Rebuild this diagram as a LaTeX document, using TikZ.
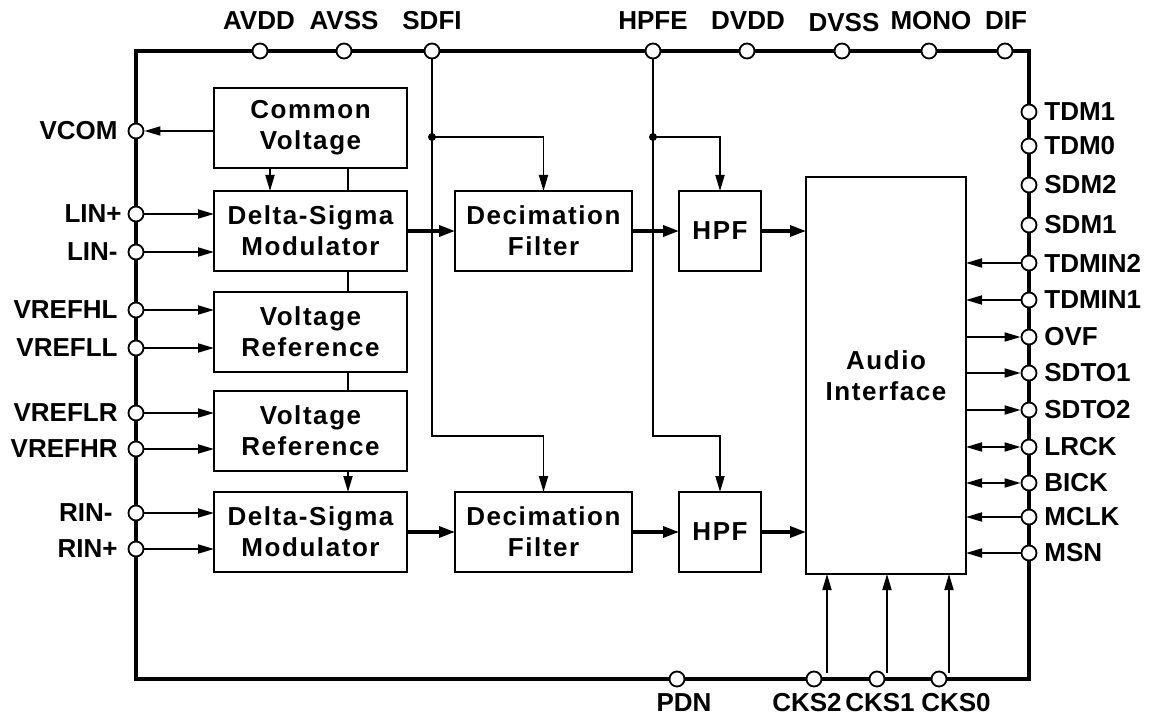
\documentclass[tikz,border=0pt]{standalone}
\usepackage{fontspec}
\setmainfont{Liberation Sans}
\newfontfamily\boxfont[LetterSpace=6.0]{Liberation Sans}
\usetikzlibrary{arrows.meta,positioning}

\tikzset{
  blk/.style={draw, line width=1.2pt, inner sep=0pt, outer sep=0pt, align=center,
    font=\boxfont\bfseries\fontsize{13pt}{15.5pt}\selectfont},
  colblk/.style={blk, minimum width=96.5pt, minimum height=40pt},
  decblk/.style={blk, minimum width=88.5pt, minimum height=40pt},
  hpfblk/.style={blk, minimum width=41pt, minimum height=40pt},
  pin/.style={circle, draw, fill=white, line width=0.9pt, minimum size=7.5pt, inner sep=0pt},
  lbl/.style={inner sep=0pt, font=\bfseries\fontsize{13pt}{15pt}\selectfont},
  wire/.style={line width=0.9pt},
  sig/.style={wire, -{Triangle[length=8pt,width=4.5pt]}},
  bidi/.style={wire, {Triangle[length=8pt,width=4.5pt]}-{Triangle[length=8pt,width=4.5pt]}},
  bus/.style={line width=1.7pt, -{Triangle[length=8pt,width=5.5pt]}},
}

\begin{document}
\begin{tikzpicture}[x=0.5pt, y=-0.5pt]
  \useasboundingbox (0,0) rectangle (1153,722);
  % package outline
  \draw[line width=1.8pt] (136,51) rectangle (1029,679);

  % blocks
  \node[colblk] (cv)   at (310.5,128) {Common\\Voltage};
  \node[colblk] (dsl)  at (310.5,231) {Delta-Sigma\\Modulator};
  \node[colblk] (vrl)  at (310.5,332) {Voltage\\Reference};
  \node[colblk] (vrr)  at (310.5,431) {Voltage\\Reference};
  \node[colblk] (dsr)  at (310.5,532) {Delta-Sigma\\Modulator};
  \node[decblk] (decl) at (543.5,231) {Decimation\\Filter};
  \node[decblk] (decr) at (543.5,532) {Decimation\\Filter};
  \node[hpfblk] (hpfl) at (720,231) {HPF};
  \node[hpfblk] (hpfr) at (720,532) {HPF};
  \node[blk, minimum width=80pt, minimum height=198.5pt] (ai) at (886,375.5) {Audio\\Interface};

  % pins, top
  \node[pin] (avdd) at ( 260, 51) {};
  \node[pin] (avss) at ( 344, 51) {};
  \node[pin] (sdfi) at ( 432, 51) {};
  \node[pin] (hpfe) at ( 653, 51) {};
  \node[pin] (dvdd) at ( 747, 51) {};
  \node[pin] (dvss) at ( 842, 51) {};
  \node[pin] (mono) at ( 929, 51) {};
  \node[pin] (dif)  at (1005, 51) {};
  % pins, left
  \node[pin] (vcom)   at (136,131) {};
  \node[pin] (linp)   at (136,214) {};
  \node[pin] (linm)   at (136,252) {};
  \node[pin] (vrefhl) at (136,310) {};
  \node[pin] (vrefll) at (136,348) {};
  \node[pin] (vreflr) at (136,413) {};
  \node[pin] (vrefhr) at (136,449) {};
  \node[pin] (rinm)   at (136,513) {};
  \node[pin] (rinp)   at (136,549) {};
  % pins, right
  \node[pin] (tdm1)   at (1029,112) {};
  \node[pin] (tdm0)   at (1029,146) {};
  \node[pin] (sdm2)   at (1029,185) {};
  \node[pin] (sdm1)   at (1029,225) {};
  \node[pin] (tdmin2) at (1029,263) {};
  \node[pin] (tdmin1) at (1029,300) {};
  \node[pin] (ovf)    at (1029,337) {};
  \node[pin] (sdto1)  at (1029,373) {};
  \node[pin] (sdto2)  at (1029,410) {};
  \node[pin] (lrck)   at (1029,447) {};
  \node[pin] (bick)   at (1029,483) {};
  \node[pin] (mclk)   at (1029,517) {};
  \node[pin] (msn)    at (1029,553) {};
  % pins, bottom
  \node[pin] (pdn)  at (677,679) {};
  \node[pin] (cks2) at (814,679) {};
  \node[pin] (cks1) at (877,679) {};
  \node[pin] (cks0) at (939,679) {};

  % pin names
  \node[lbl] (avddl) at ( 259,21) {AVDD};
  \node[lbl] (avssl) at ( 344,21) {AVSS};
  \node[lbl] (sdfil) at ( 432,21) {SDFI};
  \node[lbl] (hpfel) at ( 653,21) {HPFE};
  \node[lbl] (dvddl) at ( 748,21) {DVDD};
  \node[lbl] (dvssl) at ( 844,23) {DVSS};
  \node[lbl] (monol) at ( 931,21) {MONO};
  \node[lbl] (difl)  at (1006,21) {DIF};
  \node[lbl, anchor=east] (vcoml)   at (118,131) {VCOM};
  \node[lbl, anchor=east] (linpl)   at (122,214) {LIN+};
  \node[lbl, anchor=east] (linml)   at (118,252) {LIN-};
  \node[lbl, anchor=east] (vrefhll) at (118,310) {VREFHL};
  \node[lbl, anchor=east] (vreflll) at (118,348) {VREFLL};
  \node[lbl, anchor=east] (vreflrl) at (118,413) {VREFLR};
  \node[lbl, anchor=east] (vrefhrl) at (118,449) {VREFHR};
  \node[lbl, anchor=east] (rinml)   at (113,513) {RIN-};
  \node[lbl, anchor=east] (rinpl)   at (118,549) {RIN+};
  \node[lbl, anchor=west] (tdm1l)   at (1044,112) {TDM1};
  \node[lbl, anchor=west] (tdm0l)   at (1044,146) {TDM0};
  \node[lbl, anchor=west] (sdm2l)   at (1044,185) {SDM2};
  \node[lbl, anchor=west] (sdm1l)   at (1044,225) {SDM1};
  \node[lbl, anchor=west] (tdmin2l) at (1044,263) {TDMIN2};
  \node[lbl, anchor=west] (tdmin1l) at (1044,300) {TDMIN1};
  \node[lbl, anchor=west] (ovfl)    at (1044,337) {OVF};
  \node[lbl, anchor=west] (sdto1l)  at (1044,373) {SDTO1};
  \node[lbl, anchor=west] (sdto2l)  at (1044,410) {SDTO2};
  \node[lbl, anchor=west] (lrckl)   at (1044,447) {LRCK};
  \node[lbl, anchor=west] (bickl)   at (1044,483) {BICK};
  \node[lbl, anchor=west] (mclkl)   at (1044,517) {MCLK};
  \node[lbl, anchor=west] (msnl)    at (1044,553) {MSN};
  \node[lbl] (pdnl)  at (684,703) {PDN};
  \node[lbl] (cks2l) at (807,703) {CKS2};
  \node[lbl] (cks1l) at (880,703) {CKS1};
  \node[lbl] (cks0l) at (956,703) {CKS0};

  % helper coordinates
  \coordinate (tapy)  at (0,137);
  \coordinate (lowy)  at (0,436);
  \coordinate (cvx)   at (270,0);
  \coordinate (refx)  at (348,0);
  \coordinate (cks2a) at (827,673);
  \coordinate (cks1a) at (887,673);
  \coordinate (cks0a) at (949,673);

  % analog side
  \draw[sig] (cv.west |- vcom) -- (vcom);
  \draw[sig] (cv.south -| cvx) -- (dsl.north -| cvx);
  \draw[wire] (cv.south -| refx) -- (dsl.north -| refx)
              (dsl.south -| refx) -- (vrl.north -| refx)
              (vrl.south -| refx) -- (vrr.north -| refx);
  \draw[sig] (vrr.south -| refx) -- (dsr.north -| refx);
  \draw[sig] (linp)   -- (linp   -| dsl.west);
  \draw[sig] (linm)   -- (linm   -| dsl.west);
  \draw[sig] (vrefhl) -- (vrefhl -| vrl.west);
  \draw[sig] (vrefll) -- (vrefll -| vrl.west);
  \draw[sig] (vreflr) -- (vreflr -| vrr.west);
  \draw[sig] (vrefhr) -- (vrefhr -| vrr.west);
  \draw[sig] (rinm)   -- (rinm   -| dsr.west);
  \draw[sig] (rinp)   -- (rinp   -| dsr.west);

  % data path
  \draw[bus] (dsl) -- (decl);
  \draw[bus] (decl) -- (hpfl);
  \draw[bus] (hpfl.east) -- (hpfl.east -| ai.west);
  \draw[bus] (dsr) -- (decr);
  \draw[bus] (decr) -- (hpfr);
  \draw[bus] (hpfr.east) -- (hpfr.east -| ai.west);

  % control from top
  \draw[sig] (sdfi) -- (sdfi |- lowy) -| (decr.north);
  \draw[sig] (sdfi |- tapy) -| (decl.north);
  \fill (sdfi |- tapy) circle (2pt);
  \draw[sig] (hpfe) -- (hpfe |- lowy) -| (hpfr.north);
  \draw[sig] (hpfe |- tapy) -| (hpfl.north);
  \fill (hpfe |- tapy) circle (2pt);

  % audio interface pins
  \draw[sig] (tdmin2) -- (tdmin2 -| ai.east);
  \draw[sig] (tdmin1) -- (tdmin1 -| ai.east);
  \draw[sig] (ai.east |- ovf) -- (ovf);
  \draw[sig] (ai.east |- sdto1) -- (sdto1);
  \draw[sig] (ai.east |- sdto2) -- (sdto2);
  \draw[bidi] (ai.east |- lrck) -- (lrck);
  \draw[bidi] (ai.east |- bick) -- (bick);
  \draw[sig] (mclk) -- (mclk -| ai.east);
  \draw[sig] (msn) -- (msn -| ai.east);
  \draw[sig] (cks2a) -- (cks2a |- ai.south);
  \draw[sig] (cks1a) -- (cks1a |- ai.south);
  \draw[sig] (cks0a) -- (cks0a |- ai.south);
\end{tikzpicture}
\end{document}
